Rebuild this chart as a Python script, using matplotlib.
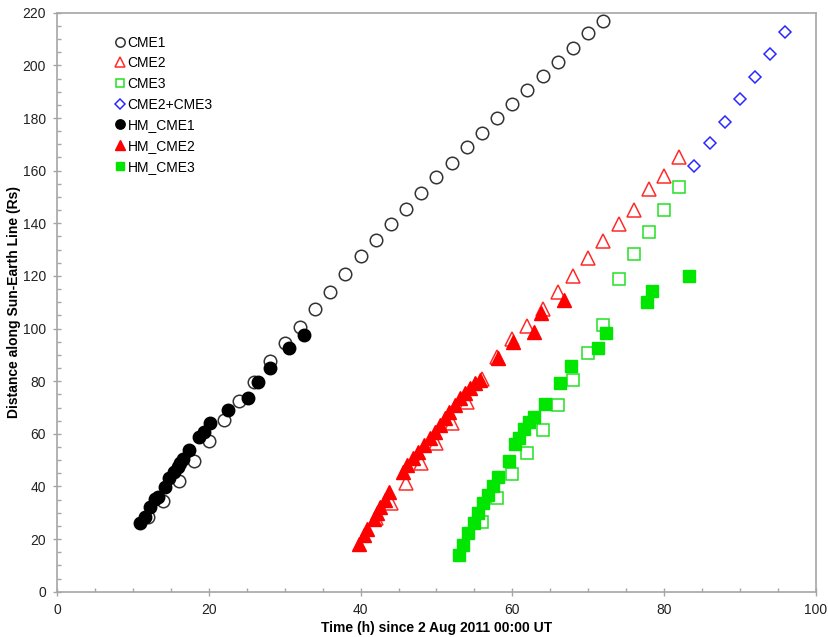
import numpy as np
import matplotlib.pyplot as plt

plt.rcParams['font.family'] = ['Liberation Sans', 'DejaVu Sans']

# white-light tracks (every 2 h)
cme1_t = [12, 14, 16, 18, 20, 22, 24, 26, 28, 30, 32, 34, 36, 38, 40, 42,
          44, 46, 48, 50, 52, 54, 56, 58, 60, 62, 64, 66, 68, 70, 72]
cme1_r = [28.3, 34.6, 42.2, 49.8, 57.4, 65.4, 72.5, 79.8, 87.5, 94.4, 100.7,
          107.3, 114.0, 120.7, 127.5, 133.6, 139.6, 145.5, 151.6, 157.7, 163.0,
          169.1, 174.4, 179.9, 185.2, 190.6, 195.9, 201.4, 206.7, 212.2, 217.0]

cme2_t = [42, 44, 46, 48, 50, 52, 54, 56, 58, 60, 62, 64, 66, 68, 70, 72,
          74, 76, 78, 80, 82]
cme2_r = [27.9, 33.8, 41.4, 48.8, 56.6, 64.1, 72.2, 80.9, 89.2, 96.2, 101.0,
          107.3, 113.8, 120.0, 126.7, 133.4, 139.7, 145.0, 153.0, 157.9, 165.0]

cme3_t = [56, 58, 60, 62, 64, 66, 68, 70, 72, 74, 76, 78, 80, 82]
cme3_r = [26.6, 35.5, 44.7, 52.8, 61.4, 70.9, 80.4, 90.6, 101.3, 118.7,
          128.3, 136.8, 145.0, 153.9]

cme23_t = [84, 86, 88, 90, 92, 94, 96]
cme23_r = [161.9, 170.6, 178.6, 187.2, 195.4, 204.2, 212.8]

# HM-based tracks
hm1_t = [10.9, 11.6, 12.2, 12.9, 13.3, 14.2, 14.8, 15.4, 15.9, 16.2, 16.6,
         17.4, 18.7, 19.4, 20.2, 22.5, 25.1, 26.5, 28.0, 30.5, 32.6]
hm1_r = [26.2, 28.5, 32.1, 35.1, 36.1, 39.7, 43.1, 45.6, 47.3, 48.8, 50.3,
         53.8, 58.7, 60.8, 64.0, 68.9, 73.7, 79.8, 84.9, 92.5, 97.5]

hm2_t = [39.8, 40.4, 40.9, 41.7, 42.1, 42.6, 43.2, 43.8, 45.6, 46.1, 46.9,
         47.6, 48.3, 49.1, 49.8, 50.5, 51.1, 51.7, 52.4, 53.1, 53.8, 54.4,
         55.1, 55.7, 58.1, 60.1, 62.8, 63.8, 66.8]
hm2_r = [18.0, 21.5, 23.8, 27.6, 29.8, 32.3, 34.8, 38.0, 45.6, 48.1, 50.7,
         53.0, 55.7, 58.3, 60.8, 63.3, 65.9, 68.4, 70.9, 73.5, 75.4, 77.3,
         79.2, 80.4, 88.7, 95.0, 98.8, 105.8, 110.8]

hm3_t = [53.0, 53.5, 54.2, 54.9, 55.5, 56.1, 56.8, 57.4, 58.1, 59.6, 60.3,
         60.9, 61.5, 62.2, 62.8, 64.3, 66.3, 67.8, 71.3, 72.3, 77.8, 78.4, 83.3]
hm3_r = [13.9, 17.7, 22.2, 26.2, 30.0, 33.6, 36.7, 40.2, 43.7, 49.8, 56.1,
         58.3, 61.7, 64.6, 66.5, 71.2, 79.2, 85.8, 92.5, 98.4, 110.0, 114.4, 120.0]

fig = plt.figure(figsize=(8.29, 6.37), dpi=100)
ax = fig.add_axes([0.069, 0.071, 0.915, 0.909])

ax.plot(cme1_t, cme1_r, 'o', ms=9, mfc='none', mec='#333333', mew=1.1, label='CME1')
ax.plot(cme2_t, cme2_r, '^', ms=9.5, mfc='none', mec='#ff2a2a', mew=1.1, label='CME2')
ax.plot(cme3_t, cme3_r, 's', ms=8.5, mfc='none', mec='#22e022', mew=1.1, label='CME3')
ax.plot(cme23_t, cme23_r, 'D', ms=6.5, mfc='none', mec='#2a2aff', mew=1.1, label='CME2+CME3')
ax.plot(hm1_t, hm1_r, 'o', ms=9, color='black', label='HM_CME1')
ax.plot(hm2_t, hm2_r, '^', ms=9.5, color='#ff0000', label='HM_CME2')
ax.plot(hm3_t, hm3_r, 's', ms=8.5, color='#00e600', label='HM_CME3')

ax.set_xlim(0, 100)
ax.set_ylim(0, 220)
ax.set_xticks(np.arange(0, 101, 20))
ax.set_yticks(np.arange(0, 221, 20))
ax.set_xticks(np.arange(0, 101, 5), minor=True)
ax.set_yticks(np.arange(0, 221, 5), minor=True)

for s in ax.spines.values():
    s.set_color('#a6a6a6')
    s.set_linewidth(1.2)
ax.tick_params(which='major', direction='inout', length=6, width=1, color='#a6a6a6',
               labelsize=10, labelcolor='#222222', pad=5)
ax.tick_params(which='minor', direction='in', length=3, width=1, color='#a6a6a6')
ax.tick_params(top=False, right=False, which='both')

ax.set_xlabel('Time (h) since 2 Aug 2011 00:00 UT', fontsize=10, fontweight='bold', labelpad=3)
ax.set_ylabel('Distance along Sun-Earth Line (Rs)', fontsize=10, fontweight='bold', labelpad=1)

ax.legend(loc='upper left', bbox_to_anchor=(0.058, 0.982), frameon=False, numpoints=1,
          fontsize=10, handlelength=0.9, handletextpad=0.1, labelspacing=0.48,
          markerscale=0.75)

fig.savefig('out.png', dpi=100)
